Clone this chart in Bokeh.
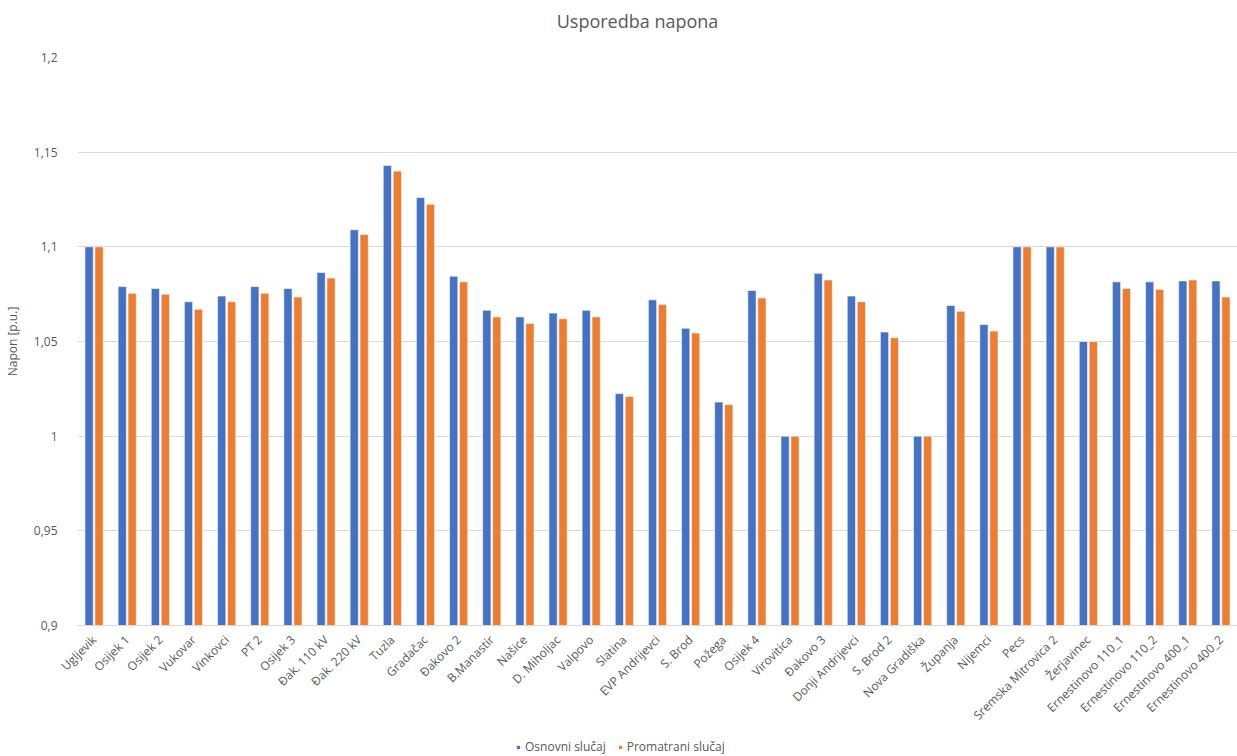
import math
from bokeh.plotting import figure
from bokeh.layouts import column
from bokeh.models import ColumnDataSource, FactorRange, Range1d, Legend, LegendItem, FixedTicker, Label
from bokeh.transform import dodge
from bokeh.embed import file_html
from bokeh.resources import INLINE

title_text = "Usporedba napona"
categories = ["Ugljevik", "Osijek 1", "Osijek 2", "Vukovar", "Vinkovci", "PT 2", "Osijek 3",
              "Đak. 110 kV", "Đak. 220 kV", "Tuzla", "Gradačac", "Đakovo 2", "B.Manastir",
              "Našice", "D. Miholjac", "Valpovo", "Slatina", "EVP Andrijevci", "S. Brod",
              "Požega", "Osijek 4", "Virovitica", "Đakovo 3", "Donji Andrijevci", "S. Brod 2",
              "Nova Gradiška", "Županja", "Nijemci", "Pecs", "Sremska Mitrovica 2",
              "Žerjavinec", "Ernestinovo 110_1", "Ernestinovo 110_2", "Ernestinovo 400_1",
              "Ernestinovo 400_2"]
osnovni = [1.100, 1.079, 1.078, 1.071, 1.074, 1.079, 1.078, 1.0865, 1.109, 1.143, 1.126,
           1.0845, 1.0665, 1.063, 1.065, 1.0665, 1.0225, 1.072, 1.057, 1.018, 1.077, 1.000,
           1.086, 1.074, 1.055, 1.000, 1.069, 1.059, 1.100, 1.100, 1.050, 1.0815, 1.0815,
           1.082, 1.082]
promatrani = [1.100, 1.0755, 1.075, 1.067, 1.071, 1.0755, 1.0735, 1.0835, 1.1065, 1.140, 1.1225,
              1.0815, 1.063, 1.0595, 1.062, 1.063, 1.021, 1.0695, 1.0545, 1.0167, 1.073, 1.000,
              1.0825, 1.071, 1.052, 1.000, 1.066, 1.0555, 1.100, 1.100, 1.050, 1.078, 1.0775,
              1.0825, 1.0735]
series_names = ["Osnovni slučaj", "Promatrani slučaj"]
y_ticks = [0.9, 0.95, 1.0, 1.05, 1.1, 1.15, 1.2]
y_tick_labels = ["0,9", "0,95", "1", "1,05", "1,1", "1,15", "1,2"]

FONT = "Open Sans"
GRAY = "#595959"
BLUE = "#4472C4"
ORANGE = "#ED7D31"

# title strip
tf = figure(width=1237, height=40, x_range=Range1d(0, 1), y_range=Range1d(0, 1),
            output_backend="svg", toolbar_location=None, x_axis_type=None, y_axis_type=None,
            min_border_left=0, min_border_right=0, min_border_top=0, min_border_bottom=0)
tf.outline_line_color = None
tf.xgrid.grid_line_color = None
tf.ygrid.grid_line_color = None
tf.add_layout(Label(x=560, y=20, x_units="screen", y_units="screen", text=title_text,
                    text_font=FONT, text_font_size="18px", text_color=GRAY,
                    text_align="center", text_baseline="middle"))

source = ColumnDataSource(dict(cat=categories, osnovni=osnovni, promatrani=promatrani))

p = figure(width=1237, height=698, x_range=FactorRange(*categories, range_padding=0),
           y_range=Range1d(0.9, 1.2), output_backend="svg", toolbar_location=None,
           min_border_left=67, min_border_right=0, min_border_top=17, min_border_bottom=113)

p.vbar(x=dodge("cat", -0.15, range=p.x_range), top="osnovni", bottom=0.9, width=0.25,
       source=source, fill_color=BLUE, line_color="#FFFFFF", line_width=1, line_alpha=0.6)
p.vbar(x=dodge("cat", 0.15, range=p.x_range), top="promatrani", bottom=0.9, width=0.25,
       source=source, fill_color=ORANGE, line_color="#FFFFFF", line_width=1, line_alpha=0.6)

p.outline_line_color = None
p.xgrid.grid_line_color = None
p.ygrid.grid_line_color = "#D9D9D9"
p.ygrid.grid_line_width = 1

p.yaxis.ticker = FixedTicker(ticks=y_ticks)
p.yaxis.major_label_overrides = {t: l for t, l in zip(y_ticks, y_tick_labels)}
p.yaxis.axis_line_color = None
p.yaxis.major_tick_line_color = None
p.yaxis.minor_tick_line_color = None
p.yaxis.major_label_text_font = FONT
p.yaxis.major_label_text_font_size = "12px"
p.yaxis.major_label_text_color = GRAY
p.yaxis.major_label_standoff = 14
p.yaxis.axis_label = "Napon [p.u.]"
p.yaxis.axis_label_text_font = FONT
p.yaxis.axis_label_text_font_size = "12px"
p.yaxis.axis_label_text_font_style = "normal"
p.yaxis.axis_label_text_color = GRAY
p.yaxis.axis_label_standoff = 10

p.xaxis.axis_line_color = "#D9D9D9"
p.xaxis.axis_line_width = 1
p.xaxis.major_tick_line_color = None
p.xaxis.minor_tick_line_color = None
p.xaxis.major_label_orientation = math.pi / 4
p.xaxis.major_label_text_font = FONT
p.xaxis.major_label_text_font_size = "12px"
p.xaxis.major_label_text_color = GRAY
p.xaxis.major_label_standoff = 6

# legend strip below the chart (swatch renderers sit outside the visible range)
lf = figure(width=1237, height=17, x_range=Range1d(0, 1), y_range=Range1d(0, 1),
            output_backend="svg", toolbar_location=None, x_axis_type=None, y_axis_type=None,
            min_border_left=0, min_border_right=0, min_border_top=0, min_border_bottom=0)
lf.outline_line_color = None
lf.xgrid.grid_line_color = None
lf.ygrid.grid_line_color = None
d1 = lf.scatter(x=[-10], y=[-10], marker="square", size=7, fill_color=BLUE, line_color=None)
d2 = lf.scatter(x=[-10], y=[-10], marker="square", size=7, fill_color=ORANGE, line_color=None)
legend = Legend(items=[LegendItem(label=series_names[0], renderers=[d1]),
                       LegendItem(label=series_names[1], renderers=[d2])],
                orientation="horizontal", location=(437, 0),
                label_text_font=FONT, label_text_font_size="12px", label_text_color=GRAY,
                glyph_width=8, glyph_height=8, spacing=10, label_standoff=3,
                label_height=14, border_line_color=None, background_fill_alpha=0,
                padding=0, margin=0)
lf.add_layout(legend, "center")

open("out.html", "w").write(file_html(column(tf, p, lf, spacing=0), INLINE))
